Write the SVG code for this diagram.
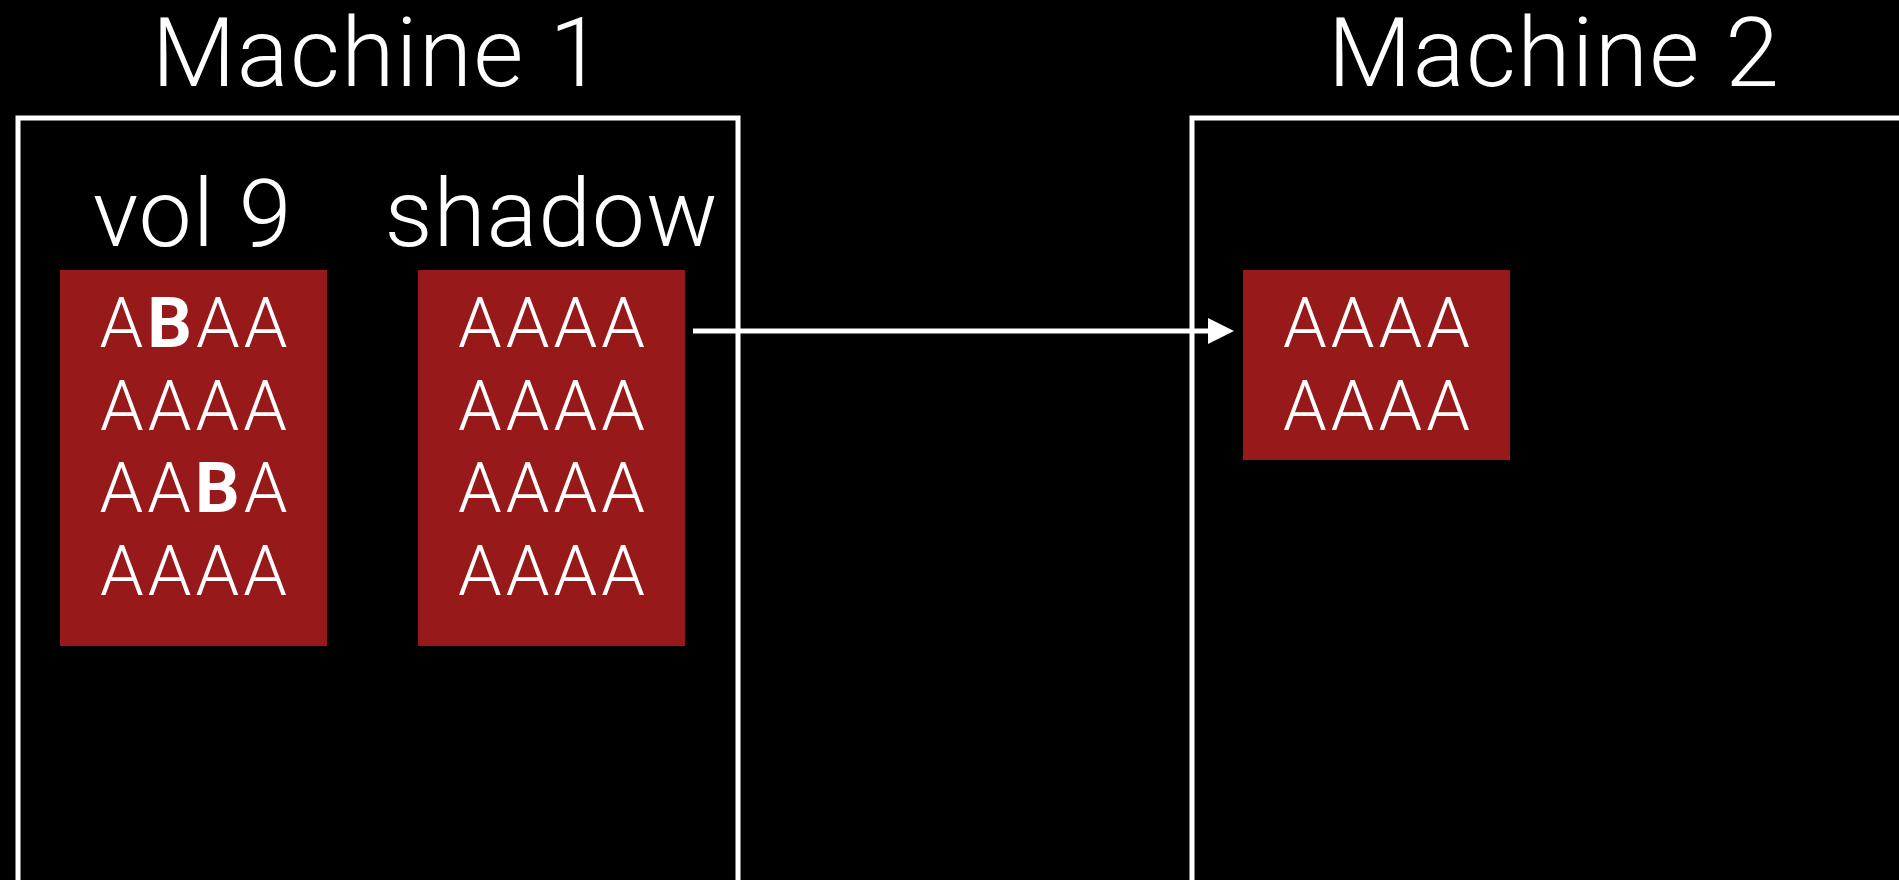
<svg xmlns="http://www.w3.org/2000/svg" width="1899" height="880" viewBox="0 0 1899 880">
<defs>
<style>
.t{font-family:Roboto,"Liberation Sans",sans-serif;font-weight:300;fill:#fff;text-anchor:middle}
.title{font-size:97px;letter-spacing:1.2px}
.hdr{font-size:95px;letter-spacing:0.8px}
.row{font-size:70px;letter-spacing:4px}
.b{font-weight:700}
.machine{fill:none;stroke:#fff;stroke-width:5}
.vol{fill:#971919}
.conn{stroke:#fff;stroke-width:5;fill:none}
</style>
<marker id="ah" markerUnits="userSpaceOnUse" markerWidth="30" markerHeight="30" refX="0" refY="13" orient="auto">
<path d="M0,0 L26,13 L0,26 Z" fill="#fff"/>
</marker>
</defs>
<rect width="1899" height="880" fill="#000"/>
<g id="machine1">
<rect class="machine" x="18" y="118" width="720" height="800"/>
<text class="t title" x="378" y="86">Machine 1</text>
</g>
<g id="machine2">
<rect class="machine" x="1192" y="118" width="720" height="800"/>
<text class="t title" x="1554" y="86">Machine 2</text>
</g>
<g id="vol9">
<text class="t hdr" x="192.5" y="246">vol 9</text>
<rect class="vol" x="60" y="270" width="267" height="376"/>
<text class="t row" x="195.5" y="347">A<tspan class="b">B</tspan>AA</text>
<text class="t row" x="195.5" y="429.5">AAAA</text>
<text class="t row" x="195.5" y="512">AA<tspan class="b">B</tspan>A</text>
<text class="t row" x="195.5" y="595">AAAA</text>
</g>
<g id="shadow">
<text class="t hdr" x="551.5" y="246">shadow</text>
<rect class="vol" x="418" y="270" width="267" height="376"/>
<text class="t row" x="553.5" y="347">AAAA</text>
<text class="t row" x="553.5" y="429.5">AAAA</text>
<text class="t row" x="553.5" y="512">AAAA</text>
<text class="t row" x="553.5" y="595">AAAA</text>
</g>
<g id="copy">
<rect class="vol" x="1243" y="270" width="267" height="190"/>
<text class="t row" x="1378.5" y="347">AAAA</text>
<text class="t row" x="1378.5" y="429.5">AAAA</text>
</g>
<g id="connectors">
<line class="conn" x1="693" y1="331" x2="1208" y2="331" marker-end="url(#ah)"/>
</g>
</svg>
